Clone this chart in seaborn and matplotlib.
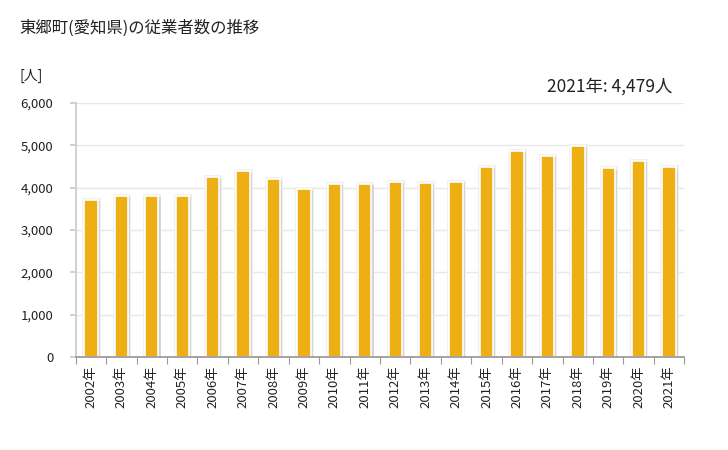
import matplotlib
matplotlib.use('Agg')
import matplotlib.pyplot as plt
import matplotlib.patheffects as pe
from matplotlib.ticker import FixedLocator, FuncFormatter
import numpy as np
import pandas as pd
import seaborn as sns

# data
years = [f'{y}年' for y in range(2002, 2022)]
workers = [3710, 3800, 3800, 3800, 4250, 4390, 4205, 3970, 4095, 4090,
           4140, 4110, 4135, 4490, 4865, 4750, 4985, 4460, 4630, 4479]
y_ticks = [0, 1000, 2000, 3000, 4000, 5000, 6000]

df = pd.DataFrame({'year': years, 'workers': workers})

sns.set_theme(style='white')
plt.rcParams['font.family'] = ['Noto Sans CJK JP', 'DejaVu Sans']

fig = plt.figure(figsize=(7.28, 4.5), dpi=100)
ax = fig.add_axes([0.104, 0.207, 0.836, 0.564])

sns.barplot(data=df, x='year', y='workers', color='#eeaf14', saturation=1,
            width=0.44, edgecolor='white', linewidth=1.2, ax=ax)
# faint grey halo / shadow around each bar
for bar in ax.patches:
    bar.set_path_effects([pe.Stroke(linewidth=3.5, foreground='#f0f0f0'),
                          pe.SimplePatchShadow(offset=(1.5, -1), shadow_rgbFace='#999999', alpha=0.3),
                          pe.Normal()])

ax.set_xlim(-0.5, len(years) - 0.5)
ax.set_ylim(0, 6000)
ax.yaxis.set_major_locator(FixedLocator(y_ticks))
ax.yaxis.set_major_formatter(FuncFormatter(lambda v, p: f'{int(v):,}'))
ax.grid(axis='y', color='#e8e8e8', linewidth=1)
ax.set_axisbelow(True)

# tick marks between bars, labels under bars
ax.set_xticks(np.arange(len(years)))
ax.set_xticklabels(years, rotation=90, fontsize=9.5, color='#222222')
ax.set_xticks(np.arange(len(years) + 1) - 0.5, minor=True)
ax.tick_params(axis='x', which='major', length=0, pad=6)
ax.tick_params(axis='x', which='minor', length=5, color='#999999', width=0.8, bottom=True)
ax.tick_params(axis='y', length=4, color='#cccccc', labelsize=9.5, labelcolor='#222222', left=True, pad=12)

for side in ['top', 'right']:
    ax.spines[side].set_visible(False)
ax.spines['left'].set_color('#cccccc')
ax.spines['bottom'].set_color('#999999')
ax.set_xlabel('')
ax.set_ylabel('')

fig.text(0.027, 0.938, '東郷町(愛知県)の従業者数の推移', fontsize=11.8, color='#222222', va='center')
fig.text(0.027, 0.831, '[人]', fontsize=10, color='#222222', va='center')
fig.text(0.923, 0.807, '2021年: 4,479人', fontsize=12.5, color='#222222', va='center', ha='right')

fig.savefig('out.png', dpi=100, facecolor='white')
